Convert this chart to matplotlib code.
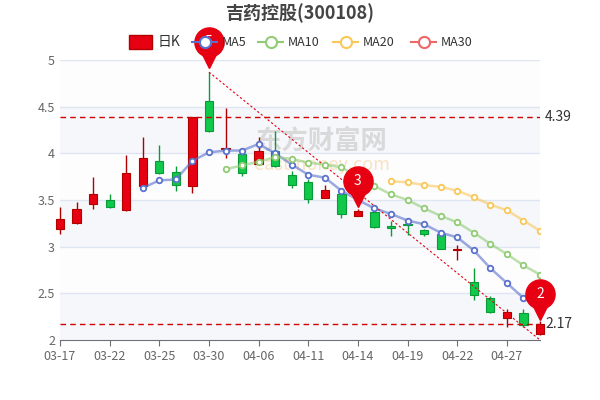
import numpy as np
import matplotlib.pyplot as plt
import matplotlib.transforms as mtrans

plt.rcParams['font.family'] = ['Noto Sans CJK SC', 'DejaVu Sans']

# trading dates
dates = ['03-17', '03-18', '03-21', '03-22', '03-23', '03-24', '03-25', '03-28', '03-29', '03-30',
         '03-31', '04-01', '04-06', '04-07', '04-08', '04-11', '04-12', '04-13', '04-14', '04-15',
         '04-18', '04-19', '04-20', '04-21', '04-22', '04-25', '04-26', '04-27', '04-28', '04-29']
opens = [3.19, 3.25, 3.46, 3.50, 3.39, 3.65, 3.92, 3.80, 3.65, 4.56,
         4.05, 3.99, 3.89, 4.03, 3.77, 3.69, 3.52, 3.56, 3.33, 3.37,
         3.22, 3.24, 3.18, 3.14, 2.96, 2.62, 2.45, 2.24, 2.29, 2.06]
closes = [3.30, 3.40, 3.56, 3.43, 3.79, 3.95, 3.79, 3.66, 4.39, 4.24,
          4.06, 3.79, 4.03, 3.86, 3.66, 3.51, 3.61, 3.35, 3.38, 3.21,
          3.20, 3.23, 3.14, 2.97, 2.97, 2.48, 2.30, 2.30, 2.16, 2.17]
highs = [3.43, 3.48, 3.75, 3.56, 3.98, 4.18, 4.09, 3.86, 4.39, 4.87,
         4.49, 3.99, 4.18, 4.24, 3.81, 3.72, 3.66, 3.58, 3.40, 3.38,
         3.28, 3.26, 3.19, 3.15, 3.02, 2.77, 2.47, 2.33, 2.33, 2.20]
lows = [3.14, 3.24, 3.40, 3.41, 3.38, 3.65, 3.78, 3.60, 3.57, 4.23,
        3.95, 3.76, 3.89, 3.85, 3.63, 3.47, 3.52, 3.31, 3.33, 3.20,
        3.11, 3.12, 3.11, 2.97, 2.86, 2.43, 2.29, 2.14, 2.14, 2.05]

ma5 = [None] * 5 + [3.63, 3.71, 3.72, 3.92, 4.01, 4.03, 4.03, 4.10, 4.00, 3.88,
                    3.77, 3.74, 3.60, 3.50, 3.41, 3.35, 3.28, 3.24, 3.15, 3.10,
                    2.96, 2.77, 2.61, 2.45, 2.34]
ma10 = [None] * 10 + [3.83, 3.87, 3.91, 3.96, 3.94, 3.90, 3.88, 3.85, 3.75, 3.65,
                      3.56, 3.50, 3.41, 3.33, 3.26, 3.15, 3.03, 2.92, 2.80, 2.70]
ma20 = [None] * 20 + [3.70, 3.69, 3.66, 3.64, 3.60, 3.53, 3.45, 3.39, 3.28, 3.17]

tick_idx = [0, 3, 6, 9, 12, 15, 18, 21, 24, 27]
pins = [(9, 4.87, '5'), (18, 3.38, '3'), (29, 2.17, '2')]
hlines = [4.39, 2.17]

RED = '#e60012'
GREEN = '#10c84a'

fig = plt.figure(figsize=(6, 4), dpi=100)
ax = fig.add_axes([0.1, 0.15, 0.8, 0.7])
ax.set_xlim(0, 29)
ax.set_ylim(2, 5)

# background bands
for i, lo in enumerate(np.arange(2, 5, 0.5)):
    ax.axhspan(lo, lo + 0.5, color='#f5f7fb' if i % 2 == 0 else '#fdfdfe', zorder=0, lw=0)
for y in np.arange(2.5, 5.01, 0.5):
    ax.axhline(y, color='#e0e6f1', lw=1, zorder=0.5)

# watermark
ax.text(15.8, 4.13, '东方财富网', fontsize=19, color='#d2d2d2', alpha=0.8, ha='center', va='center',
        fontweight='bold', zorder=1)
ax.text(15.8, 3.87, 'eastmoney.com', fontsize=13, color='#f8e2c4', style='italic',
        ha='center', va='center', zorder=1)

x = np.arange(len(dates))
for i in x:
    o, c, h, l = opens[i], closes[i], highs[i], lows[i]
    up = c >= o
    col = RED if up else GREEN
    edge = '#b00000' if up else '#0a9a38'
    if abs(c - o) < 0.02:
        col = '#b00000' if up else GREEN
    ax.vlines(i, l, h, color=edge, lw=1, zorder=2, clip_on=False)
    ax.bar(i, max(abs(c - o), 0.012), bottom=min(o, c), width=0.5, color=col,
           edgecolor=edge, lw=0.8, zorder=3, clip_on=False)

def plot_ma(vals, color):
    xs = [i for i, v in enumerate(vals) if v is not None]
    ys = [v for v in vals if v is not None]
    ax.plot(xs, ys, color=color, lw=1.8, alpha=0.6, zorder=4)
    ax.plot(xs, ys, 'o', ms=4, mfc='white', mec=color, mew=1.3, zorder=5)

plot_ma(ma5, '#5b72cc')
plot_ma(ma10, '#91cc75')
plot_ma(ma20, '#fac858')

for y in hlines:
    ax.axhline(y, color='#d00000', ls='--', lw=1, zorder=4, dashes=(4, 3))
    ax.text(29.3, y, f'{y:.2f}', va='center', ha='left', fontsize=10, color='#333333', clip_on=False)

ax.plot([9, 29], [4.87, 2.0], color=RED, ls='--', lw=0.8, dashes=(2, 2), zorder=4)

for i, y, lab in pins:
    off = mtrans.offset_copy(ax.transData, fig=fig, x=0, y=30, units='dots')
    ax.plot(i, y, marker='v', ms=12, color=RED,
            transform=mtrans.offset_copy(ax.transData, fig=fig, x=0, y=12, units='dots'),
            zorder=6, clip_on=False)
    ax.plot(i, y, marker='o', ms=21, color=RED, transform=off, zorder=6, clip_on=False)
    ax.text(i, y, lab, color='white', fontsize=10, ha='center', va='center', transform=off, zorder=7)

ax.set_xticks(tick_idx)
ax.set_xticklabels([dates[i] for i in tick_idx], color='#666666', fontsize=9)
ax.set_yticks(np.arange(2, 5.01, 0.5))
ax.set_yticklabels(['2', '2.5', '3', '3.5', '4', '4.5', '5'], color='#666666', fontsize=9)
ax.tick_params(axis='y', length=0)
ax.tick_params(axis='x', color='#6e7079', length=4)
for s in ['top', 'right', 'left']:
    ax.spines[s].set_visible(False)
ax.spines['bottom'].set_color('#6e7079')

fig.text(0.5, 0.968, '吉药控股(300108)', ha='center', va='center', fontsize=13, color='#444444', fontweight='bold')

# legend
ly = 0.895
fig.patches.append(plt.Rectangle((0.215, ly - 0.018), 0.038, 0.036, transform=fig.transFigure,
                                 facecolor=RED, edgecolor='#b00000', lw=1))
fig.text(0.262, ly, '日K', fontsize=10, va='center', color='#333333')
for lx, lab, col in [(0.37, 'MA5', '#5b72cc'), (0.48, 'MA10', '#91cc75'),
                     (0.605, 'MA20', '#fac858'), (0.735, 'MA30', '#ee6666')]:
    fig.add_artist(plt.Line2D([lx - 0.05, lx - 0.008], [ly, ly], transform=fig.transFigure, color=col, lw=1.5))
    fig.add_artist(plt.Line2D([lx - 0.029], [ly], transform=fig.transFigure, marker='o', ms=8,
                              mfc='white', mec=col, mew=1.5))
    fig.text(lx, ly, lab, fontsize=9, va='center', color='#333333')

plt.savefig('out.png')
